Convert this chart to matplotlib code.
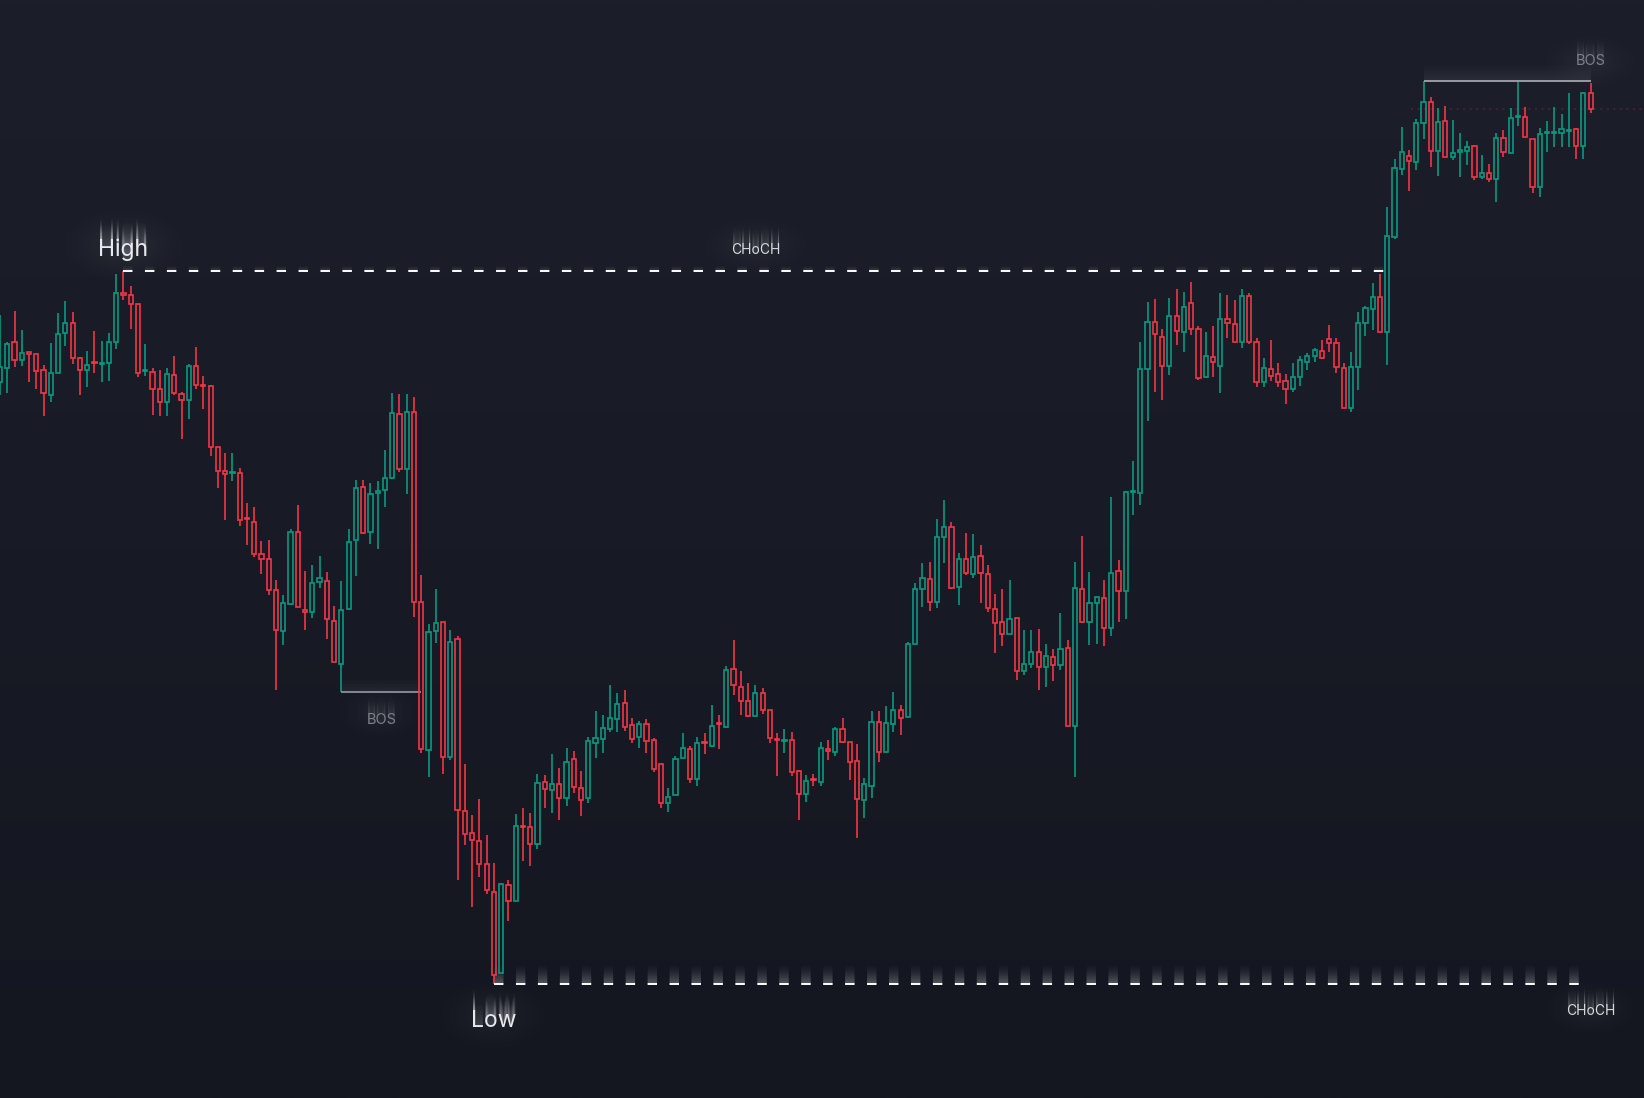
import numpy as np
import matplotlib
matplotlib.use("Agg")
import matplotlib.pyplot as plt
from matplotlib.collections import LineCollection
from matplotlib.patches import Rectangle
import matplotlib.transforms as mtransforms

plt.rcParams['lines.scale_dashes'] = False

# ---------------- data (OHLC, arbitrary price units) ----------------
opens = [718,732,758,740,748,746,730,705,727,767,
         777,742,730,738,736,737,758,807,805,796,
         729,728,711,698,725,706,700,734,715,714,
         653,629,627,627,582,578,546,541,510,469,
         496,568,490,488,518,519,479,436,491,560,
         613,568,607,610,622,686,631,688,498,350,
         469,478,343,461,289,267,259,236,208,127,
         215,199,274,273,256,318,310,316,302,341,
         312,302,357,361,371,381,397,375,363,376,
         360,336,297,305,342,351,321,358,354,377,
         373,431,413,399,384,407,390,361,359,360,
         329,306,321,318,351,348,371,358,339,300,
         314,378,348,376,390,383,456,511,521,498,
         563,573,513,541,526,544,526,491,478,466,
         482,429,436,448,433,443,435,452,374,511,
         478,497,502,472,529,509,608,607,731,778,
         763,734,784,768,797,771,723,743,734,781,
         776,758,804,758,718,731,726,719,711,723,
         738,744,749,761,757,732,692,733,777,791,
         803,768,863,931,944,938,977,998,949,979,
         943,948,949,954,923,927,921,962,947,983,
         983,961,913,967,967,967,969,971,954,1007]
highs = [785,758,789,770,748,746,735,757,787,799,
         788,743,749,769,759,767,826,829,814,796,
         756,732,730,732,744,708,736,753,724,715,
         653,647,647,632,597,593,559,560,520,505,
         571,595,529,535,544,528,494,519,571,620,
         620,617,619,650,707,706,706,703,525,476,
         511,478,470,464,336,285,301,265,237,217,
         220,286,292,287,326,325,346,332,352,349,
         329,363,389,385,415,407,410,382,379,381,
         362,336,312,344,367,354,363,367,395,385,
         434,460,429,417,415,412,390,367,371,368,
         330,325,326,358,360,373,382,358,356,322,
         389,389,394,408,395,458,517,537,538,581,
         600,578,547,567,566,555,535,506,511,520,
         482,470,470,471,456,451,487,460,538,564,
         528,503,520,603,540,609,639,758,798,801,
         771,802,811,808,818,774,768,774,807,805,
         800,811,807,762,742,760,737,726,737,744,
         747,752,760,775,762,737,748,788,794,817,
         826,893,941,973,950,981,1019,1003,992,994,
         980,967,959,955,945,936,967,970,992,1019,
         993,961,972,979,993,986,1007,972,1008,1017]
lows = [705,707,733,734,718,711,684,698,727,754,
        736,705,713,727,718,719,751,800,771,723,
        724,685,684,684,705,661,681,711,691,644,
        612,580,619,574,555,543,526,505,410,455,
        495,493,470,482,512,461,438,408,490,524,
        566,556,551,593,621,628,606,483,347,323,
        457,326,340,220,255,193,223,206,116,127,
        179,199,239,234,251,292,287,280,294,307,
        284,297,342,347,368,368,369,357,352,347,
        328,292,288,305,342,317,314,346,353,351,
        372,405,385,383,384,386,357,324,347,324,
        280,298,314,314,340,344,357,320,262,282,
        302,338,348,368,365,383,456,493,489,492,
        537,511,495,525,522,497,488,447,454,466,
        420,425,432,410,413,419,430,374,323,477,
        455,456,454,464,478,481,585,595,679,708,
        700,725,755,748,765,720,722,723,707,762,
        758,752,756,713,713,719,713,696,708,714,
        730,738,741,748,727,692,688,710,764,770,
        768,735,861,925,909,930,961,933,924,943,
        940,923,935,920,921,918,898,943,947,974,
        963,907,903,948,953,953,953,941,941,987]
closes = [733,756,740,747,746,729,707,727,766,777,
          742,730,735,737,737,758,807,805,796,727,
          730,711,698,726,707,700,734,715,714,653,
          629,626,628,580,581,546,541,510,470,497,
          568,493,488,517,522,481,438,490,558,612,
          567,606,609,622,687,631,688,498,351,468,
          477,343,458,290,266,260,236,210,125,216,
          199,274,273,256,317,311,316,302,338,313,
          300,359,362,372,382,396,373,361,376,359,
          331,297,303,341,352,321,357,357,374,376,
          430,415,399,384,407,390,362,360,360,328,
          306,319,320,352,349,371,358,338,301,316,
          378,348,377,390,382,456,511,522,498,563,
          573,512,541,527,543,527,492,477,466,481,
          429,436,448,433,444,435,451,374,512,478,
          497,503,472,527,509,608,609,731,778,766,
          734,784,769,793,771,722,744,738,781,777,
          758,804,758,718,732,724,718,711,723,740,
          744,750,742,757,733,692,733,777,792,803,
          768,864,932,948,939,977,998,949,978,943,
          947,950,953,923,927,921,962,948,982,984,
          963,913,966,968,968,971,970,954,1007,991]

# structure levels (candle indices)
high_idx, high_break_idx = 17, 191
low_idx = 68
bos_low_idx, bos_low_break_idx = 47, 58
bos_high_idx = 196
labels_main = ["High", "Low"]
labels_struct = ["CHoCH", "BOS"]

# ---------------- style ----------------
GREEN = "#089981"
RED = "#F23645"
W_PX, H_PX = 1644, 1098
XMAX = 226.35
YMIN, YMAX = 2, 1100
DX = W_PX / XMAX  # px per candle

fig = plt.figure(figsize=(W_PX / 100, H_PX / 100), dpi=100)
ax = fig.add_axes([0, 0, 1, 1])
ax.axis("off")

# background gradient
top = np.array([0x1c, 0x1f, 0x2a]) / 255
bot = np.array([0x14, 0x17, 0x20]) / 255
g = np.linspace(0, 1, 256)[:, None, None]
bg = top[None, None, :] * (1 - g) + bot[None, None, :] * g
ax.imshow(bg, extent=[0, XMAX, YMIN, YMAX], aspect="auto", zorder=0,
          interpolation="bilinear")


def halo(cx_px, cy_px, rx, ry, alpha):
    n = 80
    yy, xx = np.mgrid[-1:1:n * 1j, -1:1:n * 1j]
    a = alpha * np.exp(-(xx ** 2 + yy ** 2) * 3.0)
    rgba = np.zeros((n, n, 4))
    rgba[..., :3] = 1.0
    rgba[..., 3] = a
    ax.imshow(rgba, extent=[(cx_px - rx) / DX, (cx_px + rx) / DX,
                            YMAX - (cy_px + ry), YMAX - (cy_px - ry)],
              aspect="auto", zorder=1, interpolation="bilinear")


def glow_text(x, y, s, size, color, streak, a0, **kw):
    for k in range(streak, 0, -1):
        tr = mtransforms.offset_copy(ax.transData, fig=fig, x=0, y=k, units="dots")
        ax.text(x, y, s, transform=tr, color=color,
                alpha=a0 * (1 - k / (streak + 1)), fontsize=size, zorder=6, **kw)
    ax.text(x, y, s, color=color, fontsize=size, zorder=7, **kw)


def glow_line(xs, ys, color, lw, dashes, streak, a0, z=3, power=1.5):
    for k in range(streak, 0, -1):
        tr = mtransforms.offset_copy(ax.transData, fig=fig, x=0, y=k, units="dots")
        ln, = ax.plot(xs, ys, color=color, lw=lw, transform=tr,
                      alpha=a0 * (1 - k / (streak + 1)) ** power, zorder=z,
                      solid_capstyle="butt", dash_capstyle="butt")
        if dashes:
            ln.set_dashes(dashes)
    ln, = ax.plot(xs, ys, color=color, lw=lw, zorder=z + 1,
                  solid_capstyle="butt", dash_capstyle="butt")
    if dashes:
        ln.set_dashes(dashes)


# halos around labels
halo(123, 245, 75, 45, 0.05)
halo(755, 245, 70, 35, 0.04)
halo(493, 1015, 70, 45, 0.04)
halo(1590, 1008, 60, 35, 0.04)
halo(380, 712, 55, 35, 0.04)
halo(1590, 62, 60, 35, 0.04)

# ---------------- candles ----------------
o = np.array(opens, float)
h = np.array(highs, float)
l = np.array(lows, float)
c = np.array(closes, float)
n = len(o)
xs = np.arange(n)
up = c >= o
cols = [GREEN if u else RED for u in up]
btop = np.maximum(o, c)
bbot = np.minimum(o, c)

segs, scol = [], []
for i in range(n):
    if h[i] > btop[i]:
        segs.append([(xs[i], btop[i]), (xs[i], h[i])])
        scol.append(cols[i])
    if l[i] < bbot[i]:
        segs.append([(xs[i], l[i]), (xs[i], bbot[i])])
        scol.append(cols[i])
ax.add_collection(LineCollection(segs, colors=scol, linewidths=1.2,
                                 capstyle="butt", zorder=4))
BW = 0.58
for i in range(n):
    hh = max(btop[i] - bbot[i], 0.6)
    ax.add_patch(Rectangle((xs[i] - BW / 2, bbot[i]), BW, hh, fill=False,
                           edgecolor=cols[i], lw=1.2, joinstyle="miter", zorder=5))

# ---------------- structure lines ----------------
DASH = (6.8, 9.0)
hy = h[high_idx]
glow_line([high_idx, high_break_idx], [hy, hy], "white", 1.4, DASH, 5, 0.08)
ly = l[low_idx]
glow_line([low_idx, n - 1], [ly, ly], "white", 1.4, DASH, 22, 0.16, power=2.0)

by = l[bos_low_idx]
glow_line([bos_low_idx, bos_low_break_idx], [by, by], "#858892", 1.4, None, 16, 0.07)
uy = h[bos_high_idx]
glow_line([bos_high_idx, n - 1], [uy, uy], "#9a9ca5", 1.4, None, 20, 0.07)

# last close dotted price line
ln, = ax.plot([194.3, XMAX], [c[-1], c[-1]], color="#432431", lw=1.4, zorder=3)
ln.set_dashes((1.4, 3.3))

# ---------------- labels ----------------
FONT = ["Inter", "DejaVu Sans"]
glow_text(high_idx, YMAX - 256, labels_main[0], 16.5, "#e8e9ec", 22, 0.09,
          ha="center", va="baseline", family=FONT)
glow_text(low_idx, YMAX - 1027, labels_main[1], 16.5, "#e8e9ec", 22, 0.09,
          ha="center", va="baseline", family=FONT)
glow_text((high_idx + high_break_idx) / 2, YMAX - 254, labels_struct[0], 10, "#d6d8de",
          18, 0.08, ha="center", va="baseline", family=FONT)
glow_text(n - 1, YMAX - 1015, labels_struct[0], 10, "#d6d8de", 18, 0.08,
          ha="center", va="baseline", family=FONT)
glow_text((bos_low_idx + bos_low_break_idx) / 2, YMAX - 724, labels_struct[1], 10.5,
          "#7c7f89", 18, 0.08, ha="center", va="baseline", family=FONT)
glow_text(n - 1, YMAX - 65, labels_struct[1], 10.5, "#7c7f89", 18, 0.08,
          ha="center", va="baseline", family=FONT)

ax.set_xlim(0, XMAX)
ax.set_ylim(YMIN, YMAX)
fig.savefig("out.png", dpi=100, facecolor="#171a24")
